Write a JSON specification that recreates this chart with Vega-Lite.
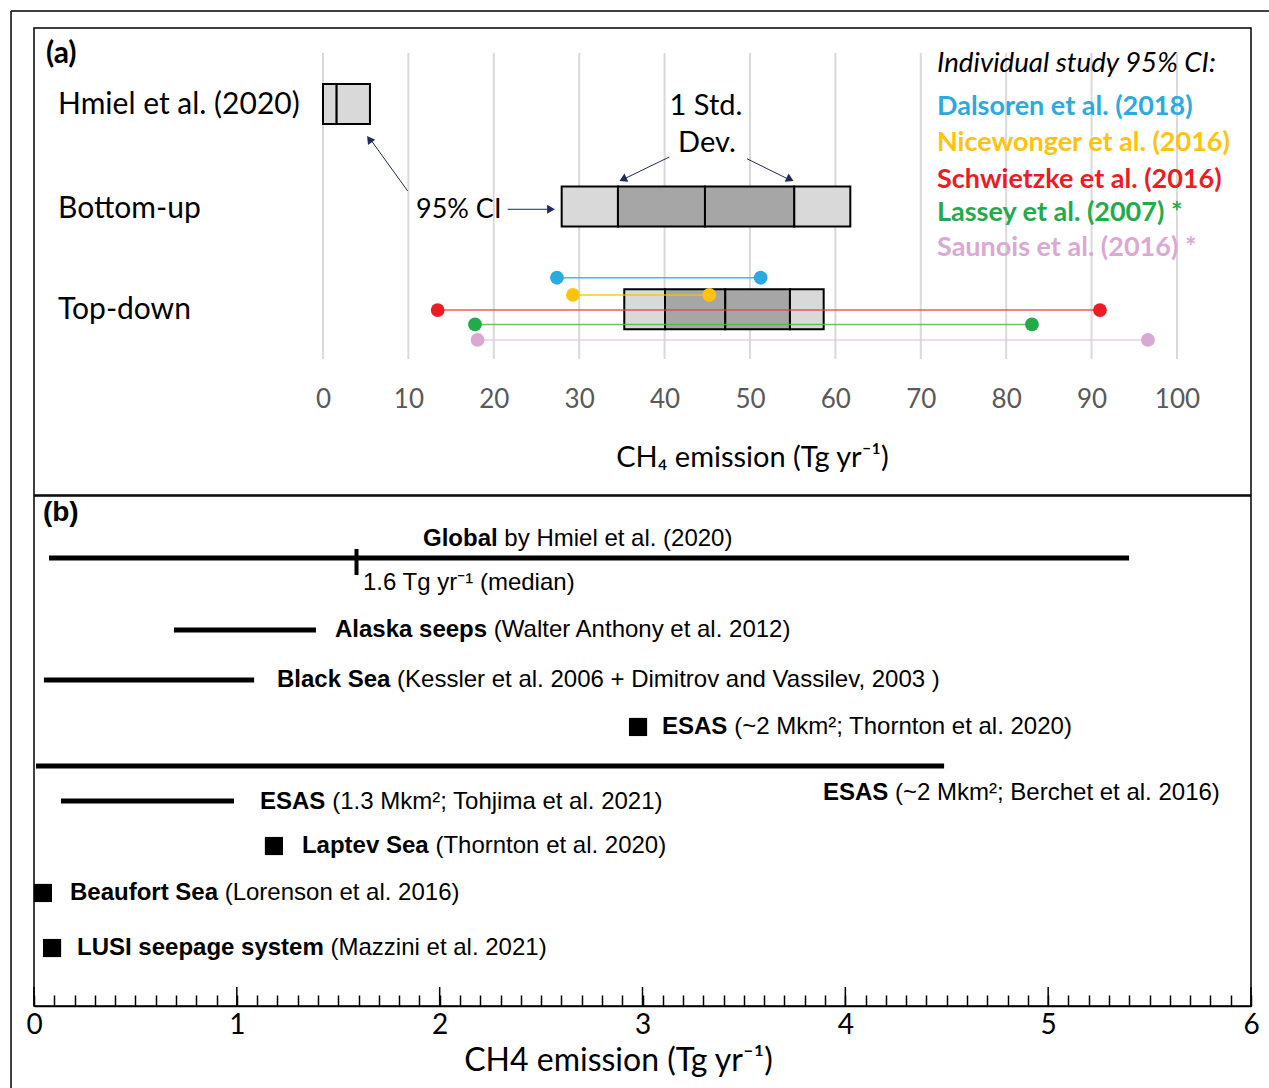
{
  "$schema": "https://vega.github.io/schema/vega-lite/v6.json",
  "padding": {"left": 9, "top": 9, "right": 0, "bottom": 0},
  "background": "white",
  "bounds": "flush",
  "spacing": 1,
  "config": {"view": {"stroke": "black", "strokeWidth": 1.5}, "font": "Lato"},
  "datasets": {
    "frame": [
      {"x1": -36.53, "x2": 110.77, "y1": 0.0927, "y2": 0.0927},
      {"x1": -36.53, "x2": -36.53, "y1": 0.0927, "y2": 10.6}
    ],
    "grid": [{"xa": 0}, {"xa": 10}, {"xa": 20}, {"xa": 30}, {"xa": 40}, {"xa": 50}, {"xa": 60}, {"xa": 70}, {"xa": 80}, {"xa": 90}, {"xa": 100}],
    "boxes": [
      {"estimate": "Hmiel", "lo": 0, "hi": 1.6, "row": 1, "part": "95% CI"},
      {"estimate": "Hmiel", "lo": 1.6, "hi": 5.5, "row": 1, "part": "95% CI"},
      {"estimate": "Bottom-up", "lo": 27.95, "hi": 34.54, "row": 2, "part": "95% CI"},
      {"estimate": "Bottom-up", "lo": 34.54, "hi": 44.73, "row": 2, "part": "1 SD"},
      {"estimate": "Bottom-up", "lo": 44.73, "hi": 55.19, "row": 2, "part": "1 SD"},
      {"estimate": "Bottom-up", "lo": 55.19, "hi": 61.75, "row": 2, "part": "95% CI"},
      {"estimate": "Top-down", "lo": 35.28, "hi": 40.05, "row": 3.002, "part": "95% CI"},
      {"estimate": "Top-down", "lo": 40.05, "hi": 47.11, "row": 3.002, "part": "1 SD"},
      {"estimate": "Top-down", "lo": 47.11, "hi": 54.68, "row": 3.002, "part": "1 SD"},
      {"estimate": "Top-down", "lo": 54.68, "hi": 58.63, "row": 3.002, "part": "95% CI"}
    ],
    "studies": [
      {"study": "Dalsoren", "lo": 27.4, "hi": 51.25, "ya": 2.695},
      {"study": "Nicewonger", "lo": 29.27, "hi": 45.24, "ya": 2.863},
      {"study": "Schwietzke", "lo": 13.43, "hi": 90.98, "ya": 3.01},
      {"study": "Lassey", "lo": 17.8, "hi": 83.02, "ya": 3.151},
      {"study": "Saunois", "lo": 18.1, "hi": 96.6, "ya": 3.302}
    ],
    "arrows": [
      {"x1": 9.92, "y1": 1.849, "x2": 5.42, "y2": 1.329},
      {"x1": 21.63, "y1": 2.027, "x2": 26.7, "y2": 2.027},
      {"x1": 40.55, "y1": 1.517, "x2": 34.89, "y2": 1.746},
      {"x1": 49.65, "y1": 1.534, "x2": 54.8, "y2": 1.746}
    ],
    "labelsA": [
      {"xa": -31.03, "ya": 0.99, "t": "Hmiel et al. (2020)"},
      {"xa": -31.03, "ya": 2.0, "t": "Bottom-up"},
      {"xa": -31.03, "ya": 2.995, "t": "Top-down"}
    ],
    "stdText": [
      {"xa": 44.85, "ya": 1.0, "t": "1 Std."},
      {"xa": 44.96, "ya": 1.36, "t": "Dev."}
    ],
    "legendText": [
      {"study": "Dalsoren", "xa": 71.9, "ya": 1.01, "t": "Dalsoren et al. (2018)"},
      {"study": "Nicewonger", "xa": 71.9, "ya": 1.358, "t": "Nicewonger et al. (2016)"},
      {"study": "Schwietzke", "xa": 71.9, "ya": 1.719, "t": "Schwietzke et al. (2016)"},
      {"study": "Lassey", "xa": 71.9, "ya": 2.041, "t": "Lassey et al. (2007) *"},
      {"study": "Saunois", "xa": 71.9, "ya": 2.39, "t": "Saunois et al. (2016) *"}
    ],
    "linesB": [
      {"name": "Global", "lo": 0.074, "hi": 5.399, "yb": 1.216},
      {"name": "Alaska seeps", "lo": 0.69, "hi": 1.39, "yb": 2.627},
      {"name": "Black Sea", "lo": 0.049, "hi": 1.085, "yb": 3.608},
      {"name": "ESAS Berchet", "lo": 0.01, "hi": 4.487, "yb": 5.294},
      {"name": "ESAS Tohjima", "lo": 0.133, "hi": 0.986, "yb": 5.98}
    ],
    "squaresB": [
      {"name": "ESAS Thornton", "x": 2.978, "yb": 4.529},
      {"name": "Laptev Sea", "x": 1.183, "yb": 6.863},
      {"name": "Beaufort Sea", "x": 0.044, "yb": 7.784},
      {"name": "LUSI", "x": 0.089, "yb": 8.863}
    ],
    "boldB": [
      {"x": 1.918, "yb": 0.843, "t": "Global"},
      {"x": 1.484, "yb": 2.627, "t": "Alaska seeps"},
      {"x": 1.198, "yb": 3.608, "t": "Black Sea"},
      {"x": 3.096, "yb": 4.529, "t": "ESAS"},
      {"x": 3.89, "yb": 5.824, "t": "ESAS"},
      {"x": 1.114, "yb": 6.0, "t": "ESAS"},
      {"x": 1.321, "yb": 6.863, "t": "Laptev Sea"},
      {"x": 0.1775, "yb": 7.784, "t": "Beaufort Sea"},
      {"x": 0.212, "yb": 8.863, "t": "LUSI seepage system"}
    ],
    "normalB": [
      {"x": 2.319, "yb": 0.843, "t": "by Hmiel et al. (2020)"},
      {"x": 1.622, "yb": 1.706, "t": "1.6 Tg yr⁻¹ (median)"},
      {"x": 2.267, "yb": 2.627, "t": "(Walter Anthony et al. 2012)"},
      {"x": 1.79, "yb": 3.608, "t": "(Kessler et al. 2006 + Dimitrov and Vassilev, 2003 )"},
      {"x": 3.452, "yb": 4.529, "t": "(~2 Mkm²; Thornton et al. 2020)"},
      {"x": 4.245, "yb": 5.824, "t": "(~2 Mkm²; Berchet et al. 2016)"},
      {"x": 1.47, "yb": 6.0, "t": "(1.3 Mkm²; Tohjima et al. 2021)"},
      {"x": 1.979, "yb": 6.863, "t": "(Thornton et al. 2020)"},
      {"x": 0.94, "yb": 7.784, "t": "(Lorenson et al. 2016)"},
      {"x": 1.462, "yb": 8.863, "t": "(Mazzini et al. 2021)"}
    ],
    "majorTicks": [{"v": 0}, {"v": 1}, {"v": 2}, {"v": 3}, {"v": 4}, {"v": 5}, {"v": 6}]
  },
  "vconcat": [
    {
      "width": 1217,
      "height": 467,
      "layer": [
        {
          "data": {"name": "frame"},
          "mark": {"type": "rule", "color": "black", "strokeWidth": 1.5},
          "encoding": {
            "x": {"field": "x1", "type": "quantitative", "scale": {"domain": [-33.84, 108.67], "nice": false, "zero": false, "padding": 0},
              "axis": {"orient": "bottom", "values": [0, 10, 20, 30, 40, 50, 60, 70, 80, 90, 100], "offset": -96, "domain": false, "ticks": false, "grid": false,
                "labelFont": "Lato", "labelFontSize": 26, "labelColor": "#595959", "labelBaseline": "middle", "labelPadding": 0, "labelFlush": false, "labelOverlap": false,
                "title": "CH₄ emission (Tg yr⁻¹)", "titleFont": "Lato", "titleFontSize": 29, "titleFontWeight": "normal", "titleColor": "black",
                "titleX": 718, "titleY": 58, "titleBaseline": "middle", "titleAlign": "center"}},
            "x2": {"field": "x2"},
            "y": {"field": "y1", "type": "quantitative", "scale": {"domain": [0.2585, 4.8146], "nice": false, "zero": false, "reverse": true, "padding": 0}, "axis": null},
            "y2": {"field": "y2"}
          }
        },
        {
          "data": {"name": "grid"},
          "mark": {"type": "rule", "color": "#d9d9d9", "strokeWidth": 2},
          "encoding": {
            "x": {"field": "xa", "type": "quantitative", "scale": {"domain": [-33.84, 108.67], "nice": false, "zero": false, "padding": 0}},
            "y": {"datum": 0.502, "type": "quantitative", "scale": {"domain": [0.2585, 4.8146], "nice": false, "zero": false, "reverse": true, "padding": 0}, "axis": null},
            "y2": {"datum": 3.488}
          }
        },
        {
          "data": {"name": "boxes"},
          "mark": {"type": "bar", "orient": "horizontal", "size": 40, "stroke": "black", "strokeWidth": 2},
          "encoding": {
            "x": {"field": "lo", "type": "quantitative", "scale": {"domain": [-33.84, 108.67], "nice": false, "zero": false, "padding": 0}},
            "x2": {"field": "hi"},
            "y": {"field": "row", "type": "quantitative", "scale": {"domain": [0.2585, 4.8146], "nice": false, "zero": false, "reverse": true, "padding": 0}, "axis": null},
            "fill": {"field": "part", "type": "nominal", "scale": {"domain": ["95% CI", "1 SD"], "range": ["#d9d9d9", "#a6a6a6"]}, "legend": null}
          }
        },
        {
          "data": {"name": "studies"},
          "mark": {"type": "rule", "strokeWidth": 1.5, "opacity": 0.85},
          "encoding": {
            "x": {"field": "lo", "type": "quantitative", "scale": {"domain": [-33.84, 108.67], "nice": false, "zero": false, "padding": 0}},
            "x2": {"field": "hi"},
            "y": {"field": "ya", "type": "quantitative", "scale": {"domain": [0.2585, 4.8146], "nice": false, "zero": false, "reverse": true, "padding": 0}, "axis": null},
            "stroke": {"field": "study", "type": "nominal", "scale": {"domain": ["Dalsoren", "Nicewonger", "Schwietzke", "Lassey", "Saunois"], "range": ["#29abe2", "#ffc000", "#f03c3c", "#5cb04a", "#e6c4df"]}, "legend": null}
          }
        },
        {
          "data": {"name": "studies"},
          "mark": {"type": "circle", "size": 190, "opacity": 1},
          "encoding": {
            "x": {"field": "lo", "type": "quantitative", "scale": {"domain": [-33.84, 108.67], "nice": false, "zero": false, "padding": 0}},
            "y": {"field": "ya", "type": "quantitative", "scale": {"domain": [0.2585, 4.8146], "nice": false, "zero": false, "reverse": true, "padding": 0}, "axis": null},
            "color": {"field": "study", "type": "nominal", "scale": {"domain": ["Dalsoren", "Nicewonger", "Schwietzke", "Lassey", "Saunois"], "range": ["#29abe2", "#ffc20e", "#ed1c24", "#22ab4b", "#d9a9d4"]}, "legend": null}
          }
        },
        {
          "data": {"name": "studies"},
          "mark": {"type": "circle", "size": 190, "opacity": 1},
          "encoding": {
            "x": {"field": "hi", "type": "quantitative", "scale": {"domain": [-33.84, 108.67], "nice": false, "zero": false, "padding": 0}},
            "y": {"field": "ya", "type": "quantitative", "scale": {"domain": [0.2585, 4.8146], "nice": false, "zero": false, "reverse": true, "padding": 0}, "axis": null},
            "color": {"field": "study", "type": "nominal", "legend": null}
          }
        },
        {
          "data": {"name": "arrows"},
          "mark": {"type": "rule", "color": "#1f2a5c", "strokeWidth": 1},
          "encoding": {
            "x": {"field": "x1", "type": "quantitative", "scale": {"domain": [-33.84, 108.67], "nice": false, "zero": false, "padding": 0}},
            "x2": {"field": "x2"},
            "y": {"field": "y1", "type": "quantitative", "scale": {"domain": [0.2585, 4.8146], "nice": false, "zero": false, "reverse": true, "padding": 0}, "axis": null},
            "y2": {"field": "y2"}
          }
        },
        {
          "data": {"values": [{"xa": 5.43, "ya": 1.343}]},
          "mark": {"type": "point", "shape": "triangle-up", "filled": true, "color": "#1f2a5c", "opacity": 1, "size": 80, "angle": 324},
          "encoding": {
            "x": {"field": "xa", "type": "quantitative", "scale": {"domain": [-33.84, 108.67], "nice": false, "zero": false, "padding": 0}},
            "y": {"field": "ya", "type": "quantitative", "scale": {"domain": [0.2585, 4.8146], "nice": false, "zero": false, "reverse": true, "padding": 0}, "axis": null}
          }
        },
        {
          "data": {"values": [{"xa": 26.7, "ya": 2.027}]},
          "mark": {"type": "point", "shape": "triangle-up", "filled": true, "color": "#1f2a5c", "opacity": 1, "size": 80, "angle": 90},
          "encoding": {
            "x": {"field": "xa", "type": "quantitative", "scale": {"domain": [-33.84, 108.67], "nice": false, "zero": false, "padding": 0}},
            "y": {"field": "ya", "type": "quantitative", "scale": {"domain": [0.2585, 4.8146], "nice": false, "zero": false, "reverse": true, "padding": 0}, "axis": null}
          }
        },
        {
          "data": {"values": [{"xa": 35.12, "ya": 1.735}]},
          "mark": {"type": "point", "shape": "triangle-up", "filled": true, "color": "#1f2a5c", "opacity": 1, "size": 80, "angle": 244},
          "encoding": {
            "x": {"field": "xa", "type": "quantitative", "scale": {"domain": [-33.84, 108.67], "nice": false, "zero": false, "padding": 0}},
            "y": {"field": "ya", "type": "quantitative", "scale": {"domain": [0.2585, 4.8146], "nice": false, "zero": false, "reverse": true, "padding": 0}, "axis": null}
          }
        },
        {
          "data": {"values": [{"xa": 54.7, "ya": 1.735}]},
          "mark": {"type": "point", "shape": "triangle-up", "filled": true, "color": "#1f2a5c", "opacity": 1, "size": 80, "angle": 116},
          "encoding": {
            "x": {"field": "xa", "type": "quantitative", "scale": {"domain": [-33.84, 108.67], "nice": false, "zero": false, "padding": 0}},
            "y": {"field": "ya", "type": "quantitative", "scale": {"domain": [0.2585, 4.8146], "nice": false, "zero": false, "reverse": true, "padding": 0}, "axis": null}
          }
        },
        {
          "data": {"name": "labelsA"},
          "mark": {"type": "text", "align": "left", "baseline": "middle", "font": "Lato", "fontSize": 30, "color": "black", "dy": 2},
          "encoding": {
            "x": {"field": "xa", "type": "quantitative", "scale": {"domain": [-33.84, 108.67], "nice": false, "zero": false, "padding": 0}},
            "y": {"field": "ya", "type": "quantitative", "scale": {"domain": [0.2585, 4.8146], "nice": false, "zero": false, "reverse": true, "padding": 0}, "axis": null},
            "text": {"field": "t"}
          }
        },
        {
          "data": {"values": [{"xa": 10.89, "ya": 2.01, "t": "95% CI"}]},
          "mark": {"type": "text", "align": "left", "baseline": "middle", "font": "Lato", "fontSize": 27, "color": "black", "dy": 2},
          "encoding": {
            "x": {"field": "xa", "type": "quantitative", "scale": {"domain": [-33.84, 108.67], "nice": false, "zero": false, "padding": 0}},
            "y": {"field": "ya", "type": "quantitative", "scale": {"domain": [0.2585, 4.8146], "nice": false, "zero": false, "reverse": true, "padding": 0}, "axis": null},
            "text": {"field": "t"}
          }
        },
        {
          "data": {"name": "stdText"},
          "mark": {"type": "text", "align": "center", "baseline": "middle", "font": "Lato", "fontSize": 29, "color": "black", "dy": 2},
          "encoding": {
            "x": {"field": "xa", "type": "quantitative", "scale": {"domain": [-33.84, 108.67], "nice": false, "zero": false, "padding": 0}},
            "y": {"field": "ya", "type": "quantitative", "scale": {"domain": [0.2585, 4.8146], "nice": false, "zero": false, "reverse": true, "padding": 0}, "axis": null},
            "text": {"field": "t"}
          }
        },
        {
          "data": {"values": [{"xa": -32.44, "ya": 0.5, "t": "(a)"}]},
          "mark": {"type": "text", "align": "left", "baseline": "middle", "font": "Lato", "fontSize": 30, "fontWeight": "bold", "color": "black", "dy": 1},
          "encoding": {
            "x": {"field": "xa", "type": "quantitative", "scale": {"domain": [-33.84, 108.67], "nice": false, "zero": false, "padding": 0}},
            "y": {"field": "ya", "type": "quantitative", "scale": {"domain": [0.2585, 4.8146], "nice": false, "zero": false, "reverse": true, "padding": 0}, "axis": null},
            "text": {"field": "t"}
          }
        },
        {
          "data": {"values": [{"xa": 71.9, "ya": 0.59, "t": "Individual study 95% CI:"}]},
          "mark": {"type": "text", "align": "left", "baseline": "middle", "font": "Lato", "fontSize": 27.7, "fontStyle": "italic", "color": "black", "dy": 2},
          "encoding": {
            "x": {"field": "xa", "type": "quantitative", "scale": {"domain": [-33.84, 108.67], "nice": false, "zero": false, "padding": 0}},
            "y": {"field": "ya", "type": "quantitative", "scale": {"domain": [0.2585, 4.8146], "nice": false, "zero": false, "reverse": true, "padding": 0}, "axis": null},
            "text": {"field": "t"}
          }
        },
        {
          "data": {"name": "legendText"},
          "mark": {"type": "text", "align": "left", "baseline": "middle", "font": "Lato", "fontSize": 27, "fontWeight": "bold", "dy": 2},
          "encoding": {
            "x": {"field": "xa", "type": "quantitative", "scale": {"domain": [-33.84, 108.67], "nice": false, "zero": false, "padding": 0}},
            "y": {"field": "ya", "type": "quantitative", "scale": {"domain": [0.2585, 4.8146], "nice": false, "zero": false, "reverse": true, "padding": 0}, "axis": null},
            "color": {"field": "study", "type": "nominal", "legend": null},
            "text": {"field": "t"}
          }
        }
      ]
    },
    {
      "width": 1217,
      "height": 510,
      "layer": [
        {
          "data": {"name": "linesB"},
          "mark": {"type": "rule", "color": "black", "strokeWidth": 5},
          "encoding": {
            "x": {"field": "lo", "type": "quantitative", "scale": {"domain": [0, 6], "nice": false, "zero": false, "padding": 0},
              "axis": {"orient": "bottom", "values": [0, 0.1, 0.2, 0.3, 0.4, 0.5, 0.6, 0.7, 0.8, 0.9, 1, 1.1, 1.2, 1.3, 1.4, 1.5, 1.6, 1.7, 1.8, 1.9, 2, 2.1, 2.2, 2.3, 2.4, 2.5, 2.6, 2.7, 2.8, 2.9, 3, 3.1, 3.2, 3.3, 3.4, 3.5, 3.6, 3.7, 3.8, 3.9, 4, 4.1, 4.2, 4.3, 4.4, 4.5, 4.6, 4.7, 4.8, 4.9, 5, 5.1, 5.2, 5.3, 5.4, 5.5, 5.6, 5.7, 5.8, 5.9, 6],
                "tickCount": 200,
                "domain": true, "domainColor": "black", "domainWidth": 1.5, "ticks": true, "tickSize": -11, "tickColor": "black", "tickWidth": 1.5, "grid": false,
                "labelExpr": "datum.value % 1 === 0 ? format(datum.value, 'd') : ''", "labelFont": "Lato", "labelFontSize": 28, "labelColor": "black", "labelBaseline": "middle", "labelPadding": 30, "labelFlush": false, "labelOverlap": false,
                "title": "CH4 emission (Tg yr⁻¹)", "titleFont": "Lato", "titleFontSize": 32, "titleFontWeight": "normal", "titleColor": "black",
                "titleX": 584, "titleY": 54, "titleBaseline": "middle", "titleAlign": "center"}},
            "x2": {"field": "hi"},
            "y": {"field": "yb", "type": "quantitative", "scale": {"domain": [0, 10], "nice": false, "zero": false, "reverse": true, "padding": 0}, "axis": null}
          }
        },
        {
          "data": {"name": "majorTicks"},
          "mark": {"type": "rule", "color": "black", "strokeWidth": 1.5},
          "encoding": {
            "x": {"field": "v", "type": "quantitative", "scale": {"domain": [0, 6], "nice": false, "zero": false, "padding": 0}},
            "y": {"datum": 9.627, "type": "quantitative", "scale": {"domain": [0, 10], "nice": false, "zero": false, "reverse": true, "padding": 0}, "axis": null},
            "y2": {"datum": 10}
          }
        },
        {
          "data": {"values": [{"median": 1.59}]},
          "mark": {"type": "rule", "color": "black", "strokeWidth": 4},
          "encoding": {
            "x": {"field": "median", "type": "quantitative", "scale": {"domain": [0, 6], "nice": false, "zero": false, "padding": 0}},
            "y": {"datum": 1.039, "type": "quantitative", "scale": {"domain": [0, 10], "nice": false, "zero": false, "reverse": true, "padding": 0}, "axis": null},
            "y2": {"datum": 1.549}
          }
        },
        {
          "data": {"name": "squaresB"},
          "mark": {"type": "square", "color": "black", "size": 330, "opacity": 1},
          "encoding": {
            "x": {"field": "x", "type": "quantitative", "scale": {"domain": [0, 6], "nice": false, "zero": false, "padding": 0}},
            "y": {"field": "yb", "type": "quantitative", "scale": {"domain": [0, 10], "nice": false, "zero": false, "reverse": true, "padding": 0}, "axis": null}
          }
        },
        {
          "data": {"name": "boldB"},
          "mark": {"type": "text", "align": "left", "baseline": "middle", "font": "Liberation Sans", "fontSize": 24, "fontWeight": "bold", "color": "black"},
          "encoding": {
            "x": {"field": "x", "type": "quantitative", "scale": {"domain": [0, 6], "nice": false, "zero": false, "padding": 0}},
            "y": {"field": "yb", "type": "quantitative", "scale": {"domain": [0, 10], "nice": false, "zero": false, "reverse": true, "padding": 0}, "axis": null},
            "text": {"field": "t"}
          }
        },
        {
          "data": {"name": "normalB"},
          "mark": {"type": "text", "align": "left", "baseline": "middle", "font": "Liberation Sans", "fontSize": 24, "color": "black"},
          "encoding": {
            "x": {"field": "x", "type": "quantitative", "scale": {"domain": [0, 6], "nice": false, "zero": false, "padding": 0}},
            "y": {"field": "yb", "type": "quantitative", "scale": {"domain": [0, 10], "nice": false, "zero": false, "reverse": true, "padding": 0}, "axis": null},
            "text": {"field": "t"}
          }
        },
        {
          "data": {"values": [{"x": 0.044, "yb": 0.333, "t": "(b)"}]},
          "mark": {"type": "text", "align": "left", "baseline": "middle", "font": "Liberation Sans", "fontSize": 28, "fontWeight": "bold", "color": "black"},
          "encoding": {
            "x": {"field": "x", "type": "quantitative", "scale": {"domain": [0, 6], "nice": false, "zero": false, "padding": 0}},
            "y": {"field": "yb", "type": "quantitative", "scale": {"domain": [0, 10], "nice": false, "zero": false, "reverse": true, "padding": 0}, "axis": null},
            "text": {"field": "t"}
          }
        }
      ]
    }
  ]
}
